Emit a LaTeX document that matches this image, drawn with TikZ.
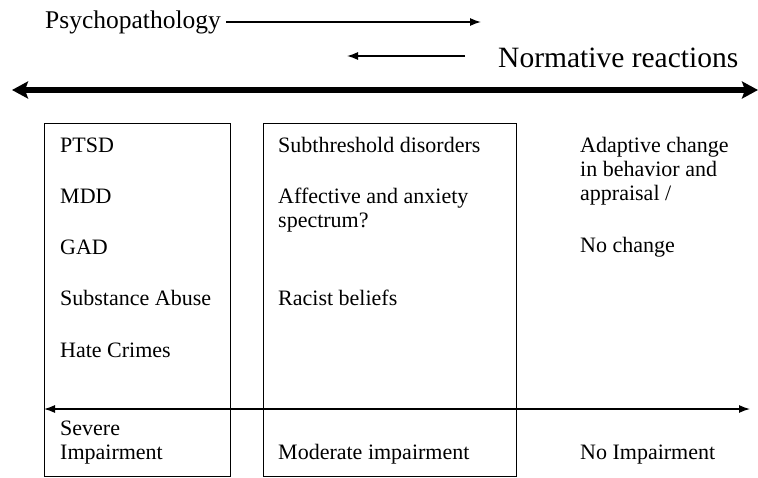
\documentclass[tikz,border=0pt]{standalone}
\usepackage{fontspec}
\setmainfont{Liberation Serif}
\usetikzlibrary{arrows.meta}
\tikzset{
  lbl/.style={anchor=base west,inner sep=0pt,font=\fontsize{22}{24}\selectfont,align=left},
  box/.style={draw,line width=1pt},
  thinarr/.style={line width=1.3pt,-{Latex[length=11pt,width=8pt]}},
}
\begin{document}
\begin{tikzpicture}[x=1pt,y=-1pt]
\useasboundingbox (0,0) rectangle (758,477);
% top labels
\node[anchor=base west,inner sep=0pt,font=\fontsize{25.5}{28}\selectfont] (psy) at (45,28) {Psychopathology};
\coordinate (psyend) at (481,22);
\coordinate (psystart) at (226,22);
\draw[thinarr] (psystart) -- (psyend);
\node[anchor=base west,inner sep=0pt,font=\fontsize{29.5}{32}\selectfont] (norm) at (498,67) {Normative reactions};
\coordinate (normstart) at (465,56);
\coordinate (normend) at (347,56);
\draw[thinarr] (normstart) -- (normend);
% thick arrow
\coordinate (tl) at (12,90);
\coordinate (tr) at (758,90);
\draw[line width=5.5pt,{Stealth[length=16pt,width=17pt,inset=3pt]}-{Stealth[length=16pt,width=17pt,inset=3pt]}] (tl) -- (tr);
% boxes
\node[box,minimum width=186pt,minimum height=353pt,anchor=north west,inner sep=0pt] (b1) at (44,123) {};
\node[box,minimum width=253pt,minimum height=353pt,anchor=north west,inner sep=0pt] (b2) at (263,123) {};
% box 1 texts
\node[lbl] (ptsd) at (60,152) {PTSD};
\node[lbl] (mdd) at (60,203) {MDD};
\node[lbl] (gad) at (60,254) {GAD};
\node[lbl] (sub) at (60,305) {Substance Abuse};
\node[lbl] (hate) at (60,357) {Hate Crimes};
% box 2 texts
\node[lbl] (subth) at (278,152) {Subthreshold disorders};
\node[lbl] (aff) at (278,227) {Affective and anxiety\\spectrum?};
\node[lbl] (rac) at (278,305) {Racist beliefs};
% right column
\node[lbl] (adapt) at (580,200) {Adaptive change\\in behavior and\\appraisal /};
\node[lbl] (noch) at (580,252) {No change};
% impairment axis
\coordinate (al) at (44,409);
\coordinate (ar) at (750,409);
\draw[line width=1.3pt,{Latex[length=11pt,width=8pt]}-{Latex[length=11pt,width=8pt]}] (al) -- (ar);
\node[lbl] (sev) at (60,459) {Severe\\Impairment};
\node[lbl] (mod) at (278,459) {Moderate impairment};
\node[lbl] (noimp) at (580,459) {No Impairment};
\end{tikzpicture}
\end{document}
